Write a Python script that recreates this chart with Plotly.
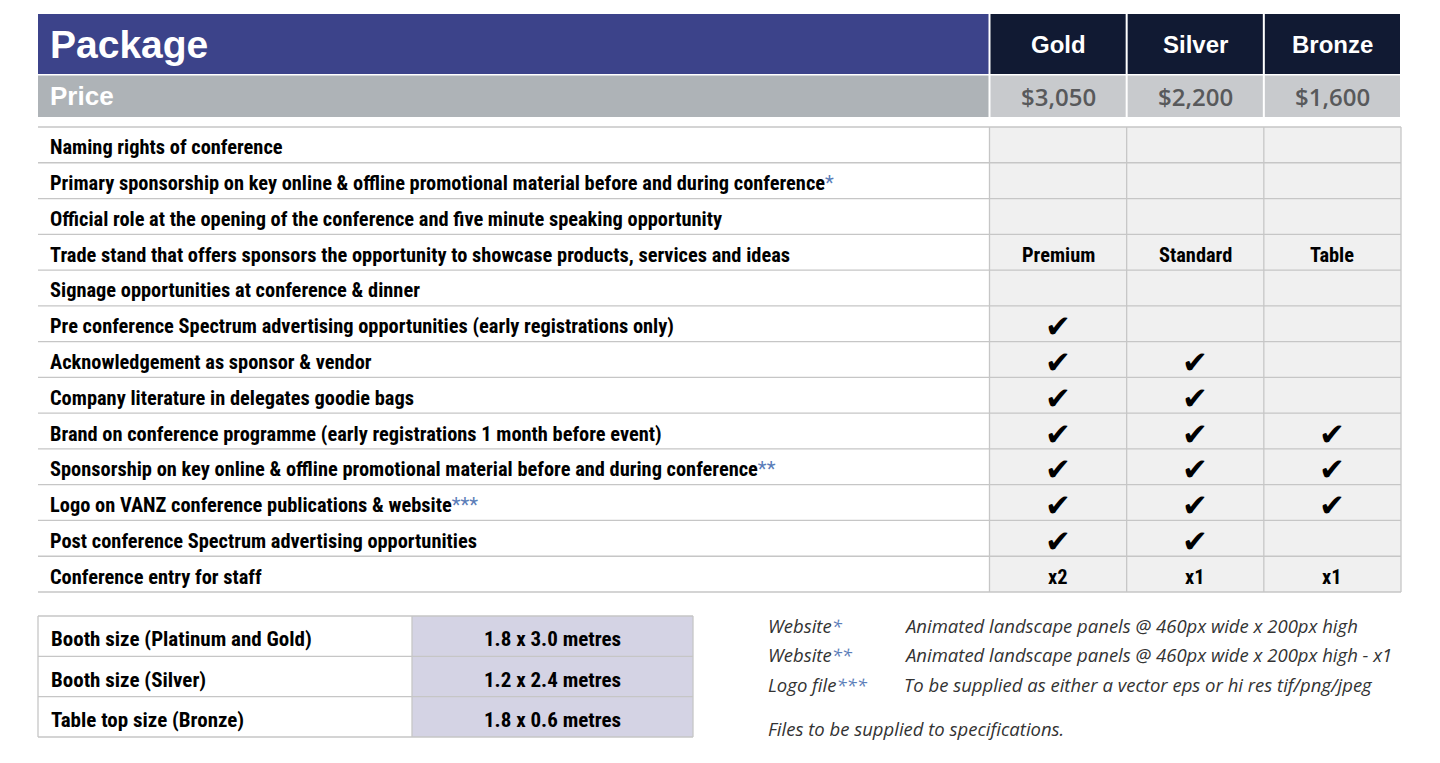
import plotly.graph_objects as go

W, H = 1440, 763

packages = ["Gold", "Silver", "Bronze"]
prices = ["$3,050", "$2,200", "$1,600"]
features = [
    ("Naming rights of conference", ""),
    ("Primary sponsorship on key online & offline promotional material before and during conference", "*"),
    ("Official role at the opening of the conference and five minute speaking opportunity", ""),
    ("Trade stand that offers sponsors the opportunity to showcase products, services and ideas", ""),
    ("Signage opportunities at conference & dinner", ""),
    ("Pre conference Spectrum advertising opportunities (early registrations only)", ""),
    ("Acknowledgement as sponsor & vendor", ""),
    ("Company literature in delegates goodie bags", ""),
    ("Brand on conference programme (early registrations 1 month before event)", ""),
    ("Sponsorship on key online & offline promotional material before and during conference", "**"),
    ("Logo on VANZ conference publications & website", "***"),
    ("Post conference Spectrum advertising opportunities", ""),
    ("Conference entry for staff", ""),
]
CK = "✔"
gold = ["", "", "", "Premium", "", CK, CK, CK, CK, CK, CK, CK, "x2"]
silver = ["", "", "", "Standard", "", "", CK, CK, CK, CK, CK, CK, "x1"]
bronze = ["", "", "", "Table", "", "", "", "", CK, CK, CK, "", "x1"]

booth_labels = ["Booth size (Platinum and Gold)", "Booth size (Silver)", "Table top size (Bronze)"]
booth_sizes = ["1.8 x 3.0 metres", "1.2 x 2.4 metres", "1.8 x 0.6 metres"]

note_keys = [("Website", "*"), ("Website", "**"), ("Logo file", "***")]
note_texts = [
    "Animated landscape panels @ 460px wide x 200px high",
    "Animated landscape panels @ 460px wide x 200px high - x1",
    "To be supplied as either a vector eps or hi res tif/png/jpeg",
]
note_footer = "Files to be supplied to specifications."

# ---- styling / geometry ----
NARROW = "Liberation Sans Narrow, Arial Narrow, Roboto Condensed, sans-serif"
ARIAL = "Liberation Sans, Arial, sans-serif"
NOTE_FONT = "Open Sans, Noto Sans, sans-serif"
BLUE = "#3c438a"
NAVY = "#111a33"
GREY_HDR = "#aeb3b7"
GREY_PRICE = "#c8cacd"
CELL = "#f0f0f0"
LINE = "#c6c6c6"
STAR = "#5b7db8"

x0, xtext_end, xright = 38, 989.5, 1401
col_w = (xright - xtext_end) / 3
hdr_top, hdr_bot = 14, 74
price_top, price_bot = 75.5, 117
tbl_top, tbl_bot = 127, 592
row_h = (tbl_bot - tbl_top) / len(features)

shapes = []
ann = []

def rect(xa, ya, xb, yb, fill, line=None, lw=0):
    shapes.append(dict(type="rect", xref="x", yref="y", x0=xa, y0=ya, x1=xb, y1=yb,
                       fillcolor=fill, line=dict(color=line or fill, width=lw), layer="below"))

def hline(xa, xb, y, color=LINE, w=1.3):
    shapes.append(dict(type="line", xref="x", yref="y", x0=xa, x1=xb, y0=y, y1=y,
                       line=dict(color=color, width=w)))

def vline(x, ya, yb, color=LINE, w=1.3):
    shapes.append(dict(type="line", xref="x", yref="y", x0=x, x1=x, y0=ya, y1=yb,
                       line=dict(color=color, width=w)))

def text(x, y, s, size, color="black", family=NARROW, anchor="left", weight="bold", style="normal"):
    ann.append(dict(x=x, y=y, xref="x", yref="y", text=s, showarrow=False, xanchor=anchor,
                    yanchor="middle", borderpad=0,
                    font=dict(size=size, color=color, family=family,
                              weight=weight, style=style)))

TX = 49

# header
rect(x0, hdr_top, xtext_end - 1, hdr_bot, BLUE)
rect(x0, price_top, xtext_end - 1, price_bot, GREY_HDR)
text(TX, (hdr_top + hdr_bot) / 2, "Package", 39, "white", ARIAL)
text(TX, (price_top + price_bot) / 2, "Price", 26, "white", ARIAL)
for i, (p, pr) in enumerate(zip(packages, prices)):
    xa = xtext_end + i * col_w + 1
    xb = xtext_end + (i + 1) * col_w - 1
    rect(xa, hdr_top, xb, hdr_bot, NAVY)
    rect(xa, price_top, xb, price_bot, GREY_PRICE)
    xc = (xa + xb) / 2
    text(xc, (hdr_top + hdr_bot) / 2, p, 24, "white", ARIAL, "center")
    text(xc, (price_top + price_bot) / 2, pr, 24, "#58595b", "Open Sans, Noto Sans, sans-serif", "center", weight=600)

# main table
rect(xtext_end, tbl_top, xright, tbl_bot, CELL)
for r in range(len(features) + 1):
    hline(x0, xright, tbl_top + r * row_h)
for c in range(4):
    vline(xtext_end + c * col_w, tbl_top, tbl_bot)
for r, (label, star) in enumerate(features):
    yc = tbl_top + (r + 0.5) * row_h + 2.5
    s = label + (f"<span style='color:{STAR};font-weight:normal'>{star}</span>" if star else "")
    text(TX, yc, s, 20.4, "black")
    for c, vals in enumerate([gold, silver, bronze]):
        v = vals[r]
        if not v:
            continue
        xc = xtext_end + (c + 0.5) * col_w
        if v == CK:
            text(xc, yc, v, 31, "black", "DejaVu Sans, sans-serif", "center", weight="normal")
        else:
            text(xc, yc, v, 20.4, "black", NARROW, "center")

# booth table
bx0, bxm, bx1 = 38, 412, 693
by0, by1 = 616, 737
bh = (by1 - by0) / len(booth_labels)
rect(bxm, by0, bx1, by1, "#d4d3e4")
for r in range(len(booth_labels) + 1):
    hline(bx0, bx1, by0 + r * bh)
for x in (bx0, bxm, bx1):
    vline(x, by0, by1)
for r, (lab, sz) in enumerate(zip(booth_labels, booth_sizes)):
    yc = by0 + (r + 0.5) * bh + 3
    text(TX + 1, yc, lab, 21, "black")
    text((bxm + bx1) / 2, yc, sz, 21, "black", NARROW, "center")

# notes
ny0, nstep = 625, 29.7
for r, ((k, st), t) in enumerate(zip(note_keys, note_texts)):
    y = ny0 + r * nstep
    text(767, y, f"{k}<span style='color:{STAR}'>{st}</span>", 18.5, "#333333", NOTE_FONT,
         weight=400, style="italic")
    text(903, y, t, 18.5, "#333333", NOTE_FONT, weight=400, style="italic")
text(767, 728, note_footer, 18.5, "#333333", NOTE_FONT, weight=400, style="italic")

fig = go.Figure()
fig.update_layout(
    width=W, height=H, margin=dict(l=0, r=0, t=0, b=0),
    paper_bgcolor="white", plot_bgcolor="white",
    xaxis=dict(range=[0, W], visible=False, fixedrange=True),
    yaxis=dict(range=[H, 0], visible=False, fixedrange=True),
    shapes=shapes, annotations=ann, showlegend=False,
)
fig.write_html("out.html", config={"displayModeBar": False},
               post_script="document.body.style.margin='0';document.body.style.overflow='hidden';")
